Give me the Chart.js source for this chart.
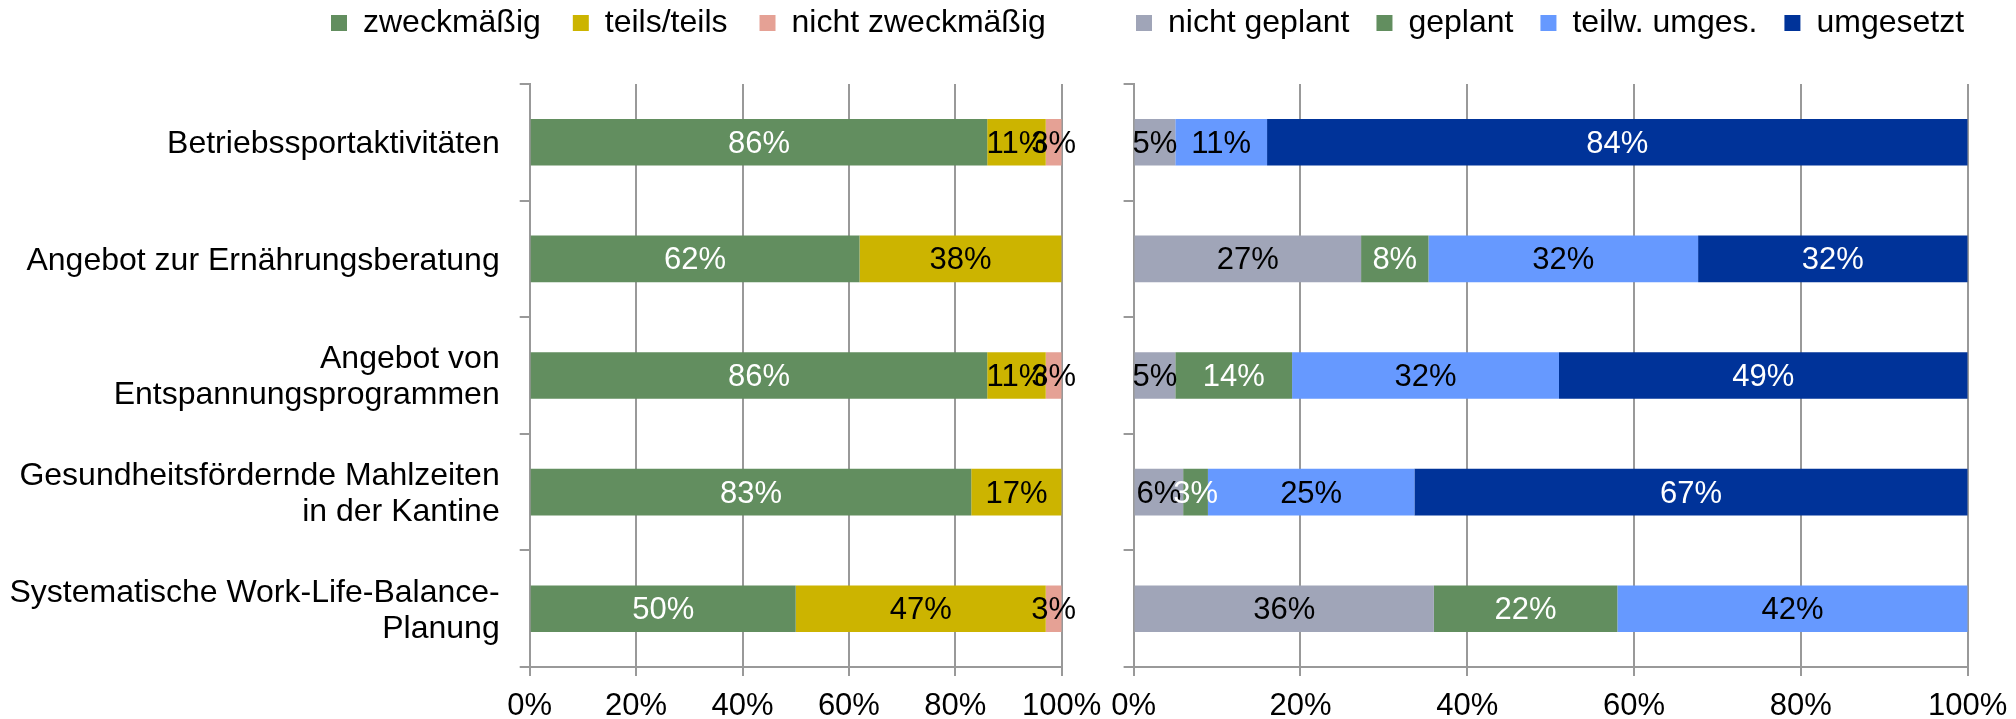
<!DOCTYPE html>
<html>
<head>
<meta charset="utf-8">
<title>Gesundheitsmaßnahmen</title>
<script src="https://cdn.jsdelivr.net/npm/chart.js@4.4.0/dist/chart.umd.min.js"></script>
<style>
    body { margin: 0; width: 2016px; height: 719px; overflow: hidden; background: #fff; }
    canvas { position: absolute; top: 0; }
    #leftChart { left: 0; }
    #rightChart { left: 1100px; }
</style>
</head>
<body>
<canvas id="leftChart" width="1110" height="719"></canvas>
<canvas id="rightChart" width="916" height="719"></canvas>
<script>
const categories = [
    'Betriebssportaktivitäten',
    'Angebot zur Ernährungsberatung',
    ['Angebot von', 'Entspannungsprogrammen'],
    ['Gesundheitsfördernde Mahlzeiten', 'in der Kantine'],
    ['Systematische Work-Life-Balance-', 'Planung']
];
const xTicks = [0, 20, 40, 60, 80, 100];

// left chart: Zweckmäßigkeit (percent labels as printed)
const zweckmaessig = [86, 62, 86, 83, 50];
const teilsTeils = [11, 38, 11, 17, 47];
const nichtZweckmaessig = [3, 0, 3, 0, 3];

// right chart: Umsetzungsstand
const nichtGeplant = [5, 27, 5, 6, 36];
const geplant = [0, 8, 14, 3, 22];
const teilwUmgesetzt = [11, 32, 32, 25, 42];
const umgesetzt = [84, 32, 49, 67, 0];

const FONT = '"Liberation Sans", Arial, sans-serif';
const AXIS_GREY = '#999999';

// 100% stacked: each row is scaled to its own total
function toShares(seriesList) {
    const totals = categories.map((c, i) => seriesList.reduce((s, arr) => s + arr[i], 0));
    return seriesList.map(arr => arr.map((v, i) => v / totals[i] * 100));
}

// Chart.js puts the legend right on top of the plot, Excel has it higher up
const legendNudge = {
    id: 'legendNudge',
    afterLayout(chart, args, opts) {
        const lg = chart.legend;
        lg.left += opts.dx;
        lg.right += opts.dx;
        lg.top += opts.dy;
        lg.bottom += opts.dy;
    }
};

// value labels centred in each segment
const barLabels = {
    id: 'barLabels',
    afterDatasetsDraw(chart) {
        const ctx = chart.ctx;
        ctx.save();
        ctx.font = '31px ' + FONT;
        ctx.textAlign = 'center';
        ctx.textBaseline = 'middle';
        chart.data.datasets.forEach((ds, i) => {
            chart.getDatasetMeta(i).data.forEach((bar, j) => {
                const v = ds.raw[j];
                if (!v) return;
                ctx.fillStyle = ds.labelColor;
                ctx.fillText(v + '%', (bar.x + bar.base) / 2, bar.y + 2);
            });
        });
        ctx.restore();
    }
};

function makeDatasets(names, series, colors, labelColors) {
    const shares = toShares(series);
    return names.map((name, i) => ({
        label: name,
        data: shares[i],
        raw: series[i],
        backgroundColor: colors[i],
        labelColor: labelColors[i]
    }));
}

function buildChart(canvasId, datasets, opts) {
    return new Chart(document.getElementById(canvasId), {
        type: 'bar',
        data: { labels: categories, datasets: datasets },
        options: {
            indexAxis: 'y',
            responsive: false,
            animation: false,
            layout: { padding: 0 },
            datasets: { bar: { barPercentage: 0.4, categoryPercentage: 1, borderWidth: 0 } },
            scales: {
                x: {
                    stacked: true,
                    min: 0,
                    max: 100,
                    afterBuildTicks: s => { s.ticks = xTicks.map(v => ({ value: v })); },
                    grid: { color: AXIS_GREY, lineWidth: 2, tickLength: 9 },
                    border: { color: AXIS_GREY, width: 2 },
                    ticks: {
                        color: '#000',
                        font: { family: FONT, size: 31 },
                        padding: 12,
                        callback: v => v + '%'
                    },
                    afterFit: s => { s.height = 52; s.paddingLeft = 0; s.paddingRight = opts.padRight; }
                },
                y: {
                    stacked: true,
                    grid: { drawOnChartArea: false, color: AXIS_GREY, lineWidth: 2, tickLength: 10 },
                    border: { color: AXIS_GREY, width: 2 },
                    ticks: {
                        display: opts.showLabels,
                        color: '#000',
                        font: { family: FONT, size: 32, lineHeight: 1.125 },
                        padding: 20,
                        labelOffset: 2
                    },
                    afterFit: s => { s.width = opts.yWidth; s.paddingTop = 84; s.paddingBottom = 0; }
                }
            },
            plugins: {
                legend: {
                    align: 'start',
                    labels: {
                        boxWidth: 16,
                        boxHeight: 16,
                        padding: opts.legendPad,
                        color: '#000',
                        font: { family: FONT, size: 32 }
                    }
                },
                legendNudge: { dx: opts.legendDx, dy: -35 },
                tooltip: { enabled: false }
            }
        },
        plugins: [legendNudge, barLabels]
    });
}

buildChart('leftChart',
    makeDatasets(
        ['zweckmäßig', 'teils/teils', 'nicht zweckmäßig'],
        [zweckmaessig, teilsTeils, nichtZweckmaessig],
        ['#628E5F', '#CCB400', '#E5A195'],
        ['#fff', '#000', '#000']
    ),
    { yWidth: 529.7, padRight: 48.3, showLabels: true, legendPad: 32, legendDx: 299 }
);

buildChart('rightChart',
    makeDatasets(
        ['nicht geplant', 'geplant', 'teilw. umges.', 'umgesetzt'],
        [nichtGeplant, geplant, teilwUmgesetzt, umgesetzt],
        ['#A0A5B8', '#628E5F', '#6699FF', '#003399'],
        ['#000', '#fff', '#000', '#fff']
    ),
    { yWidth: 33.6, padRight: 48.3, showLabels: false, legendPad: 27, legendDx: 9 }
);
</script>
</body>
</html>
